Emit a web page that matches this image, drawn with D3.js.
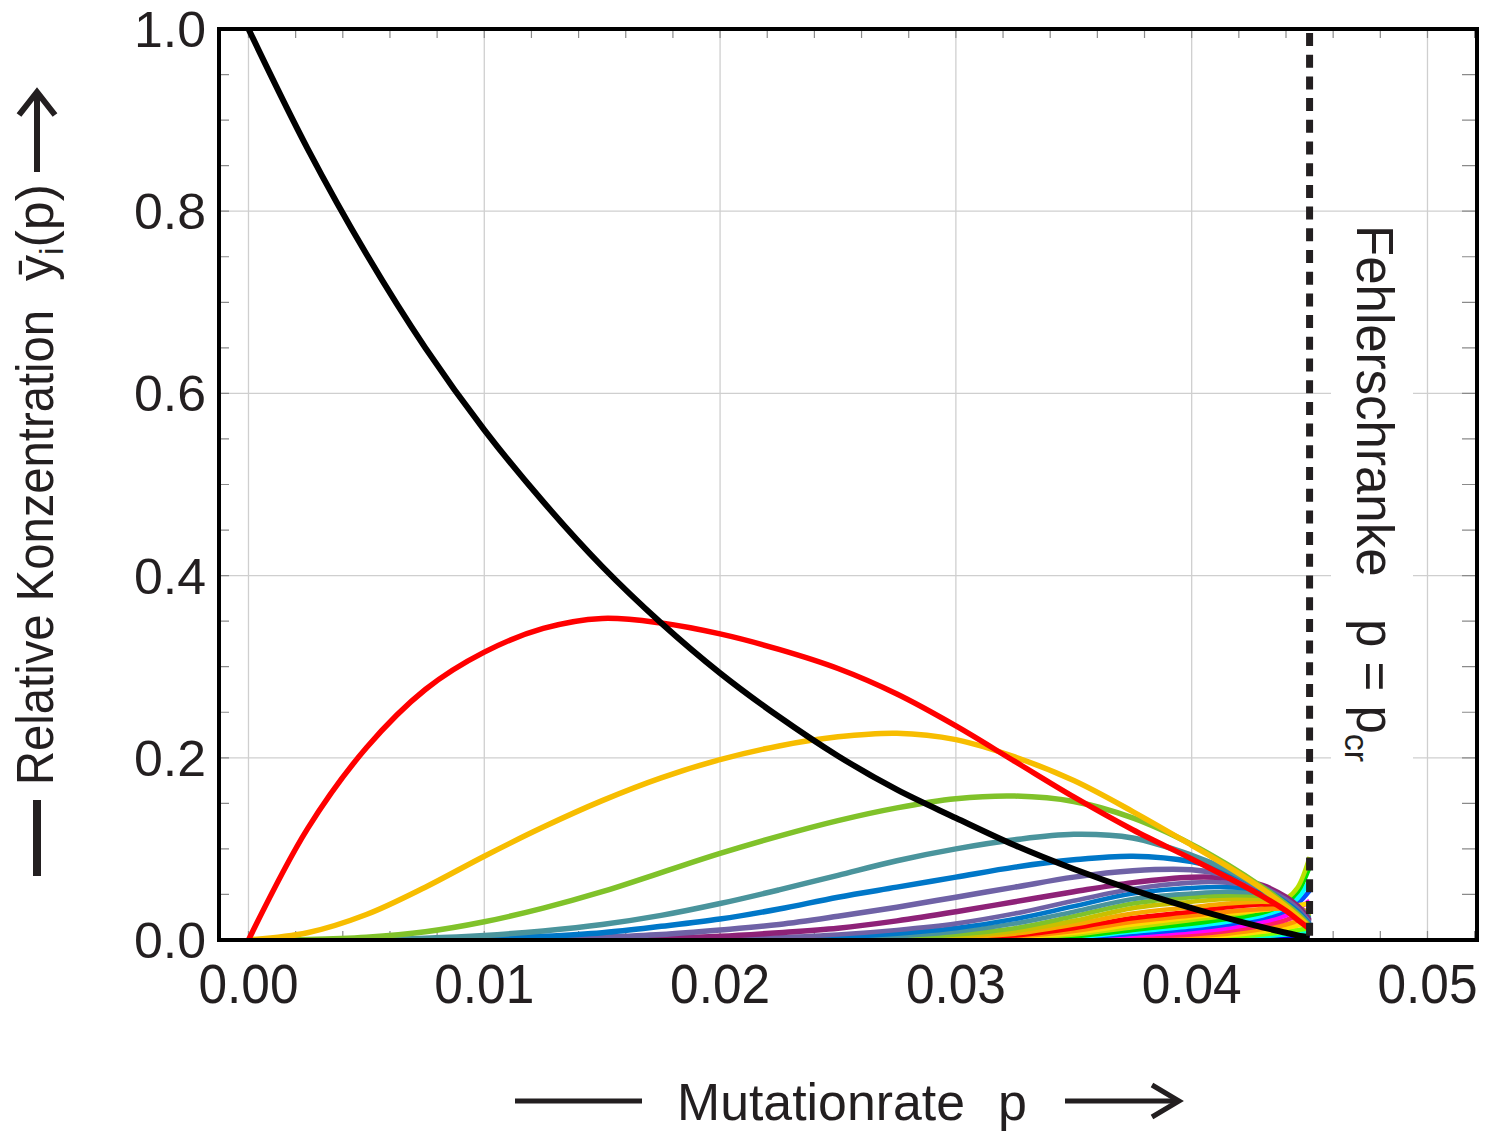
<!DOCTYPE html>
<html lang="de">
<head>
<meta charset="utf-8">
<title>Fehlerschranke</title>
<script src="https://cdn.jsdelivr.net/npm/d3@7"></script>
<style>
  body { margin: 0; background: #fff; }
  text { font-family: "Liberation Sans", Arial, sans-serif; fill: #231f20; }
</style>
</head>
<body>
<script>
// mutation rate grid (x values shared by every class curve)
var pGrid = [0, 0.0025, 0.005, 0.0075, 0.01, 0.0125, 0.015, 0.0175, 0.02, 0.0225, 0.025,
             0.0275, 0.03, 0.0325, 0.035, 0.0375, 0.04, 0.0415, 0.043, 0.044, 0.0445, 0.045];

// relative concentration of error class i
var y0 = [1.0, 0.869, 0.753, 0.650, 0.560, 0.481, 0.410, 0.348, 0.293, 0.245, 0.202, 0.165, 0.134, 0.104, 0.078, 0.055, 0.035, 0.024, 0.014, 0.008, 0.005, 0.003];
var y1 = [0, 0.122, 0.211, 0.275, 0.316, 0.342, 0.353, 0.348, 0.336, 0.319, 0.298, 0.270, 0.235, 0.196, 0.157, 0.121, 0.089, 0.069, 0.048, 0.032, 0.022, 0.012];
var y2 = [0, 0.008, 0.028, 0.058, 0.092, 0.124, 0.153, 0.178, 0.198, 0.213, 0.223, 0.227, 0.220, 0.201, 0.175, 0.141, 0.104, 0.081, 0.056, 0.037, 0.026, 0.014];
var y3 = [0, 0.0005, 0.003, 0.009, 0.02, 0.035, 0.053, 0.074, 0.095, 0.114, 0.131, 0.145, 0.155, 0.158, 0.152, 0.134, 0.105, 0.083, 0.058, 0.039, 0.028, 0.015];
var y4 = [0, 0, 0.0005, 0.002, 0.005, 0.01, 0.017, 0.027, 0.04, 0.055, 0.071, 0.087, 0.1, 0.11, 0.116, 0.112, 0.093, 0.077, 0.056, 0.039, 0.029, 0.016];
var y5 = [0, 0, 0, 0.0005, 0.0015, 0.004, 0.008, 0.015, 0.023, 0.034, 0.047, 0.058, 0.069, 0.08, 0.088, 0.092, 0.086, 0.075, 0.057, 0.041, 0.031, 0.017];
var y6 = [0, 0, 0, 0, 0.0003, 0.001, 0.003, 0.006, 0.011, 0.017, 0.026, 0.036, 0.047, 0.058, 0.069, 0.076, 0.077, 0.071, 0.058, 0.044, 0.034, 0.019];
var y7 = [0, 0, 0, 0, 0, 0.0003, 0.001, 0.002, 0.004, 0.008, 0.013, 0.021, 0.031, 0.042, 0.053, 0.063, 0.069, 0.068, 0.06, 0.047, 0.037, 0.021];
var y8 = [0, 0, 0, 0, 0, 0, 0, 0.0005, 0.001, 0.003, 0.006, 0.011, 0.018, 0.029, 0.043, 0.056, 0.063, 0.063, 0.057, 0.046, 0.037, 0.022];
var y9 = [0, 0, 0, 0, 0, 0, 0, 0, 0.0005, 0.001, 0.003, 0.007, 0.013, 0.023, 0.037, 0.051, 0.057, 0.058, 0.054, 0.045, 0.037, 0.023];
var y10 = [0, 0, 0, 0, 0, 0, 0, 0, 0, 0.0005, 0.001, 0.004, 0.009, 0.018, 0.031, 0.045, 0.051, 0.053, 0.051, 0.044, 0.037, 0.024];
var y11 = [0, 0, 0, 0, 0, 0, 0, 0, 0, 0, 0.0005, 0.002, 0.006, 0.013, 0.026, 0.04, 0.047, 0.049, 0.048, 0.043, 0.037, 0.025];
var y12 = [0, 0, 0, 0, 0, 0, 0, 0, 0, 0, 0, 0.001, 0.004, 0.01, 0.021, 0.035, 0.042, 0.045, 0.045, 0.042, 0.037, 0.026];
var y13 = [0, 0, 0, 0, 0, 0, 0, 0, 0, 0, 0, 0.0005, 0.003, 0.007, 0.017, 0.029, 0.036, 0.04, 0.042, 0.04, 0.036, 0.027];
var y14 = [0, 0, 0, 0, 0, 0, 0, 0, 0, 0, 0, 0, 0.002, 0.005, 0.013, 0.024, 0.031, 0.036, 0.039, 0.039, 0.036, 0.028];
var y15 = [0, 0, 0, 0, 0, 0, 0, 0, 0, 0, 0, 0, 0.001, 0.004, 0.01, 0.02, 0.027, 0.031, 0.034, 0.035, 0.034, 0.03];
var y16 = [0, 0, 0, 0, 0, 0, 0, 0, 0, 0, 0, 0, 0.0005, 0.003, 0.008, 0.017, 0.025, 0.029, 0.033, 0.036, 0.038, 0.04];
var y17 = [0, 0, 0, 0, 0, 0, 0, 0, 0, 0, 0, 0, 0, 0.002, 0.006, 0.014, 0.022, 0.027, 0.034, 0.045, 0.058, 0.091];
var y18 = [0, 0, 0, 0, 0, 0, 0, 0, 0, 0, 0, 0, 0, 0.001, 0.004, 0.011, 0.018, 0.023, 0.03, 0.041, 0.053, 0.08];
var y19 = [0, 0, 0, 0, 0, 0, 0, 0, 0, 0, 0, 0, 0, 0.0005, 0.003, 0.009, 0.015, 0.02, 0.027, 0.036, 0.046, 0.065];
var y20 = [0, 0, 0, 0, 0, 0, 0, 0, 0, 0, 0, 0, 0, 0, 0.002, 0.007, 0.012, 0.017, 0.024, 0.032, 0.04, 0.054];
var y21 = [0, 0, 0, 0, 0, 0, 0, 0, 0, 0, 0, 0, 0, 0, 0.001, 0.005, 0.009, 0.013, 0.02, 0.027, 0.034, 0.043];
var y22 = [0, 0, 0, 0, 0, 0, 0, 0, 0, 0, 0, 0, 0, 0, 0.0005, 0.003, 0.006, 0.01, 0.016, 0.022, 0.027, 0.034];
var y23 = [0, 0, 0, 0, 0, 0, 0, 0, 0, 0, 0, 0, 0, 0, 0, 0.002, 0.004, 0.007, 0.012, 0.017, 0.021, 0.026];
var y24 = [0, 0, 0, 0, 0, 0, 0, 0, 0, 0, 0, 0, 0, 0, 0, 0.001, 0.002, 0.005, 0.009, 0.013, 0.016, 0.019];
var y25 = [0, 0, 0, 0, 0, 0, 0, 0, 0, 0, 0, 0, 0, 0, 0, 0.0005, 0.001, 0.003, 0.006, 0.009, 0.011, 0.013];
var y26 = [0, 0, 0, 0, 0, 0, 0, 0, 0, 0, 0, 0, 0, 0, 0, 0, 0.0005, 0.002, 0.004, 0.006, 0.007, 0.008];
var y27 = [0, 0, 0, 0, 0, 0, 0, 0, 0, 0, 0, 0, 0, 0, 0, 0, 0, 0.001, 0.002, 0.004, 0.005, 0.005];
var y28 = [0, 0, 0, 0, 0, 0, 0, 0, 0, 0, 0, 0, 0, 0, 0, 0, 0, 0.0005, 0.001, 0.002, 0.003, 0.003];

var classColors = ["#000000", "#ff0000", "#f7bd00", "#80c22a", "#4a949c", "#0077c8", "#6f62a6", "#8e2278",
                   "#6f62a6", "#0077c8", "#4a949c", "#80c22a", "#c8c000", "#f7a800", "#ff0000",
                   "#ff8c00", "#ffd700", "#b8e000", "#00e000", "#00ffff", "#0050ff", "#ff00ff",
                   "#ff2060", "#ff9900", "#ffe000", "#80ff00", "#00ffcc", "#0000ff", "#c000ff"];

var xTicks = [0, 0.01, 0.02, 0.03, 0.04, 0.05];
var xTickLabels = ["0.00", "0.01", "0.02", "0.03", "0.04", "0.05"];
var yTicks = [0, 0.2, 0.4, 0.6, 0.8, 1.0];
var yTickLabels = ["0.0", "0.2", "0.4", "0.6", "0.8", "1.0"];
var pCritical = 0.045;

var series = [y0, y1, y2, y3, y4, y5, y6, y7, y8, y9, y10, y11, y12, y13, y14,
              y15, y16, y17, y18, y19, y20, y21, y22, y23, y24, y25, y26, y27, y28];

var w = 1492, h = 1131;
var plotLeft = 219, plotRight = 1477, plotTop = 29, plotBottom = 940;

var x = d3.scaleLinear().domain([-0.00125, 0.0521]).range([plotLeft, plotRight]);
var y = d3.scaleLinear().domain([0, 1]).range([plotBottom, plotTop]);

var svg = d3.select("body").append("svg")
  .attr("width", w).attr("height", h);

svg.append("defs").append("clipPath").attr("id", "plot")
  .append("rect").attr("x", plotLeft).attr("y", plotTop)
  .attr("width", plotRight - plotLeft).attr("height", plotBottom - plotTop);

// grid
var grid = svg.append("g");
grid.selectAll(".vg").data(xTicks).enter().append("line")
  .attr("x1", function(d) { return x(d); }).attr("x2", function(d) { return x(d); })
  .attr("y1", plotTop).attr("y2", plotBottom)
  .attr("stroke", "#cfcfcf").attr("stroke-width", 1.3);
grid.selectAll(".hg").data(yTicks.slice(1, 5)).enter().append("line")
  .attr("x1", plotLeft).attr("x2", plotRight)
  .attr("y1", function(d) { return y(d); }).attr("y2", function(d) { return y(d); })
  .attr("stroke", "#cfcfcf").attr("stroke-width", 1.3);

// minor ticks
var xMinor = d3.range(0, 0.0521, 0.002);
var yMinor = d3.range(0.05, 1, 0.05);
grid.selectAll(".xt").data(xMinor).enter().append("path")
  .attr("d", function(d) {
    var px = x(d);
    return "M" + px + "," + plotTop + "V" + (plotTop + 9) + "M" + px + "," + plotBottom + "V" + (plotBottom - 9);
  })
  .attr("stroke", "#8a8a8a").attr("stroke-width", 1.2);
grid.selectAll(".yt").data(yMinor).enter().append("path")
  .attr("d", function(d) {
    var py = y(d);
    return "M" + plotLeft + "," + py + "H" + (plotLeft + 10) + "M" + plotRight + "," + py + "H" + (plotRight - 15);
  })
  .attr("stroke", "#8a8a8a").attr("stroke-width", 1.2);

// curves: highest class first, so the black master sequence ends on top
var line = d3.line()
  .x(function(d, i) { return x(pGrid[i]); })
  .y(function(d) { return y(d); })
  .curve(d3.curveCatmullRom.alpha(0.5));

var curves = svg.append("g").attr("clip-path", "url(#plot)");
series.slice().reverse().forEach(function(vals, j) {
  var k = series.length - 1 - j;
  curves.append("path")
    .attr("d", line(vals))
    .attr("fill", "none")
    .attr("stroke", classColors[k])
    .attr("stroke-width", k === 0 ? 6 : (k < 8 ? 5.5 : 4.6))
    .attr("stroke-linejoin", "round");
});

// error threshold
svg.append("line")
  .attr("x1", x(pCritical)).attr("x2", x(pCritical))
  .attr("y1", plotTop + 4).attr("y2", plotBottom)
  .attr("stroke", "#231f20").attr("stroke-width", 7)
  .attr("stroke-dasharray", "13,8.7");

// label of the threshold
svg.append("rect").attr("x", 1331).attr("y", 215).attr("width", 82).attr("height", 555)
  .attr("fill", "#fff");
var fl = svg.append("text")
  .attr("transform", "translate(1357,225) rotate(90)")
  .attr("font-size", 51)
  .attr("xml:space", "preserve");
fl.append("tspan").text("Fehlerschranke   p = p");
fl.append("tspan").attr("font-size", 34).attr("dy", 12).text("cr");

// frame
svg.append("rect").attr("x", plotLeft).attr("y", plotTop)
  .attr("width", plotRight - plotLeft).attr("height", plotBottom - plotTop)
  .attr("fill", "none").attr("stroke", "#000").attr("stroke-width", 4);

// tick labels
svg.selectAll(".xl").data(xTicks).enter().append("text")
  .attr("x", function(d) { return x(d); })
  .attr("y", 1003)
  .attr("text-anchor", "middle")
  .attr("font-size", 55)
  .attr("textLength", 100).attr("lengthAdjust", "spacingAndGlyphs")
  .text(function(d, i) { return xTickLabels[i]; });

svg.selectAll(".yl").data(yTicks).enter().append("text")
  .attr("x", 206)
  .attr("y", function(d) { return y(d) + 18; })
  .attr("text-anchor", "end")
  .attr("font-size", 50)
  .attr("textLength", 72).attr("lengthAdjust", "spacingAndGlyphs")
  .text(function(d, i) { return yTickLabels[i]; });

// x axis title with line and arrow
svg.append("text").attr("x", 677).attr("y", 1120).attr("font-size", 52)
  .attr("textLength", 288).attr("lengthAdjust", "spacingAndGlyphs")
  .text("Mutationrate");
svg.append("text").attr("x", 998).attr("y", 1120).attr("font-size", 52).text("p");
svg.append("path").attr("d", "M515,1101H642").attr("stroke", "#231f20").attr("stroke-width", 5);
svg.append("path").attr("d", "M1065,1101H1178").attr("stroke", "#231f20").attr("stroke-width", 5);
svg.append("path").attr("d", "M1152,1085L1179,1101L1152,1117")
  .attr("fill", "none").attr("stroke", "#231f20").attr("stroke-width", 5);

// y axis title with bar and arrow
var yt = svg.append("text")
  .attr("transform", "translate(53,785) rotate(-90)")
  .attr("font-size", 52)
  .attr("xml:space", "preserve");
yt.append("tspan").attr("textLength", 475).attr("lengthAdjust", "spacingAndGlyphs")
  .text("Relative Konzentration");
yt.append("tspan").text("  ȳ");
yt.append("tspan").attr("font-size", 34).attr("dy", 10).text("i");
yt.append("tspan").attr("dy", -10).text("(p)");
svg.append("path").attr("d", "M37,800V876").attr("stroke", "#231f20").attr("stroke-width", 8);
svg.append("path").attr("d", "M37,172V92").attr("stroke", "#231f20").attr("stroke-width", 6);
svg.append("path").attr("d", "M19,115L37,92L55,115")
  .attr("fill", "none").attr("stroke", "#231f20").attr("stroke-width", 6);
</script>
</body>
</html>
